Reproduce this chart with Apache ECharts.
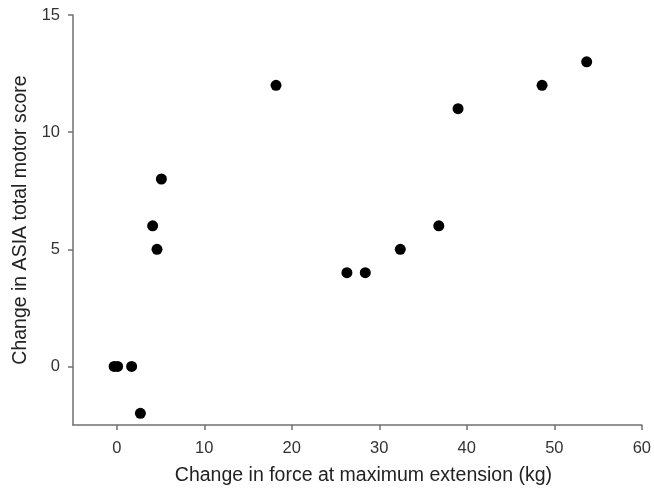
<!DOCTYPE html>
<html><head><meta charset="utf-8">
<script src="https://cdn.jsdelivr.net/npm/echarts@6/dist/echarts.min.js"></script>
<style>html,body{margin:0;padding:0;background:#fff}#c{width:654px;height:491px}</style>
</head><body><div id="c"></div>
<script>
const forceChange = [-0.3, 0.1, 1.7, 2.7, 4.1, 4.6, 5.1, 18.2, 26.3, 28.4, 32.4, 36.8, 39.0, 48.6, 53.7];
const motorChange = [0, 0, 0, -2, 6, 5, 8, 12, 4, 4, 5, 6, 11, 12, 13];
const xTicks = [0, 10, 20, 30, 40, 50, 60];
const yTicks = [0, 5, 10, 15];
const xName = 'Change in force at maximum extension (kg)';
const yName = 'Change in ASIA total motor score';

const points = forceChange.map((x, i) => [x, motorChange[i]]);
const chart = echarts.init(document.getElementById('c'));
const FONT = 'Liberation Sans, Arial, sans-serif';
const axisCommon = {
  axisLine: {show: true, onZero: false, lineStyle: {color: '#707070', width: 1.5}},
  axisTick: {show: true, inside: false, length: 5, lineStyle: {color: '#707070', width: 1.5}},
  splitLine: {show: false},
  nameLocation: 'middle',
  nameTextStyle: {color: '#222', fontSize: 19.5, fontFamily: FONT},
  axisLabel: {color: '#333', fontSize: 16.5, fontFamily: FONT}
};
chart.setOption({
  animation: false,
  grid: {left: 73, right: 11, top: 15, bottom: 65},
  xAxis: Object.assign({}, axisCommon, {
    type: 'value', min: -5, max: 60, name: xName, nameGap: 41,
    nameTextStyle: Object.assign({}, axisCommon.nameTextStyle, {padding: [0, 0, 0, 12]}),
    axisTick: Object.assign({}, axisCommon.axisTick, {customValues: xTicks}),
    axisLabel: Object.assign({}, axisCommon.axisLabel, {customValues: xTicks, margin: 15})
  }),
  yAxis: Object.assign({}, axisCommon, {
    type: 'value', min: -2.5, max: 15, name: yName, nameGap: 41,
    axisTick: Object.assign({}, axisCommon.axisTick, {customValues: yTicks}),
    axisLabel: Object.assign({}, axisCommon.axisLabel, {customValues: yTicks, margin: 13})
  }),
  series: [{
    type: 'scatter', data: points, symbol: 'circle', symbolSize: 11,
    itemStyle: {color: '#000', opacity: 1}
  }]
});
</script></body></html>
